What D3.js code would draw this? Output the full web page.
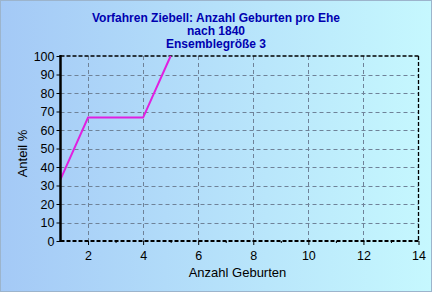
<!DOCTYPE html>
<html><head><meta charset="utf-8">
<script src="https://cdn.jsdelivr.net/npm/d3@7/dist/d3.min.js"></script>
<style>html,body{margin:0;padding:0;overflow:hidden;}svg{display:block;}</style>
</head><body>
<script>
const titleLines = ["Vorfahren Ziebell: Anzahl Geburten pro Ehe", "nach 1840", "Ensemblegröße 3"];
const xValues = [1, 2, 4, 5];
const yValues = [33.3, 66.7, 66.7, 100];
const xTicks = [2, 4, 6, 8, 10, 12, 14];
const xMinorTicks = [3, 5, 7, 9, 11, 13];
const yTicks = [0, 10, 20, 30, 40, 50, 60, 70, 80, 90, 100];
const xLabel = "Anzahl Geburten";
const yLabel = "Anteil %";

const W = 432, H = 292;
const m = {left: 60.5, right: 418.5, top: 56, bottom: 241};
const svg = d3.select("body").append("svg").attr("width", W).attr("height", H);
const defs = svg.append("defs");
const g1 = defs.append("linearGradient").attr("id", "bg").attr("x1", 0).attr("x2", 1).attr("y1", 0).attr("y2", 0);
g1.append("stop").attr("offset", 0).attr("stop-color", "#a4c9f6");
g1.append("stop").attr("offset", 1).attr("stop-color", "#c6f8fe");
svg.append("rect").attr("width", W).attr("height", H).attr("fill", "url(#bg)");
svg.append("rect").attr("x", 0.5).attr("y", 0.5).attr("width", W - 1).attr("height", H - 1)
  .attr("fill", "none").attr("stroke", "#9cb4cc").attr("stroke-width", 1);

const x = d3.scaleLinear().domain([1, 14]).range([m.left, m.right]);
const y = d3.scaleLinear().domain([0, 100]).range([m.bottom, m.top]);

// grid
const grid = svg.append("g").attr("stroke", "#6f8298").attr("stroke-width", 1).attr("stroke-dasharray", "4,3");
xTicks.filter(d => d < 14).forEach(d => grid.append("line").attr("x1", Math.round(x(d)) + 0.5).attr("x2", Math.round(x(d)) + 0.5).attr("y1", m.top).attr("y2", m.bottom));
yTicks.filter(d => d > 0 && d < 100).forEach(d => grid.append("line").attr("x1", m.left).attr("x2", m.right).attr("y1", Math.round(y(d)) + 0.5).attr("y2", Math.round(y(d)) + 0.5));

// frame: dashed top, right, bottom
const fr = svg.append("g").attr("stroke", "#000").attr("stroke-width", 1.3).attr("stroke-dasharray", "4,2").attr("fill", "none");
fr.append("line").attr("x1", m.left).attr("x2", m.right).attr("y1", m.top).attr("y2", m.top);
fr.append("line").attr("x1", m.right).attr("x2", m.right).attr("y1", m.top).attr("y2", m.bottom);
fr.append("line").attr("x1", m.left).attr("x2", m.right).attr("y1", m.bottom).attr("y2", m.bottom).attr("stroke-width", 2);

// line
const line = d3.line().x((d, i) => x(xValues[i])).y(d => y(d));
svg.append("path").datum(yValues).attr("d", line).attr("fill", "none").attr("stroke", "#e020e0").attr("stroke-width", 2);

// y axis
const yAxis = d3.axisLeft(y).tickValues(yTicks).tickSize(4).tickPadding(2);
const ya = svg.append("g").attr("transform", `translate(${m.left},0)`).call(yAxis);
ya.select(".domain").remove();
ya.selectAll("text").attr("font-family", "Arial, 'Liberation Sans', sans-serif").attr("font-size", 12.5).attr("fill", "#000");
svg.append("line").attr("x1", m.left).attr("x2", m.left).attr("y1", m.top - 1).attr("y2", m.bottom + 1).attr("stroke", "#000").attr("stroke-width", 2.5);

// x axis
const xAxis = d3.axisBottom(x).tickValues(xTicks).tickSize(4).tickPadding(6);
const xa = svg.append("g").attr("transform", `translate(0,${m.bottom})`).call(xAxis);
xa.select(".domain").remove();
xa.selectAll("text").attr("font-family", "Arial, 'Liberation Sans', sans-serif").attr("font-size", 12.5).attr("fill", "#000");
const xm = d3.axisBottom(x).tickValues(xMinorTicks).tickSize(2).tickFormat("");
const xma = svg.append("g").attr("transform", `translate(0,${m.bottom})`).call(xm);
xma.select(".domain").remove();

// labels
svg.append("text").attr("x", (m.left + m.right) / 2 - 2).attr("y", 277).attr("text-anchor", "middle")
  .attr("font-family", "Arial, 'Liberation Sans', sans-serif").attr("font-size", 13).attr("fill", "#000").text(xLabel);
svg.append("text").attr("transform", `translate(27,${(m.top + m.bottom) / 2 + 5}) rotate(-90)`).attr("text-anchor", "middle")
  .attr("font-family", "Arial, 'Liberation Sans', sans-serif").attr("font-size", 13).attr("fill", "#000").text(yLabel);

// title
titleLines.forEach((t, i) => svg.append("text").attr("x", 216).attr("y", 22 + i * 13).attr("text-anchor", "middle")
  .attr("font-family", "Arial, 'Liberation Sans', sans-serif").attr("font-size", 12).attr("font-weight", "bold").attr("fill", "#0000b0").text(t));
</script>
</body></html>
